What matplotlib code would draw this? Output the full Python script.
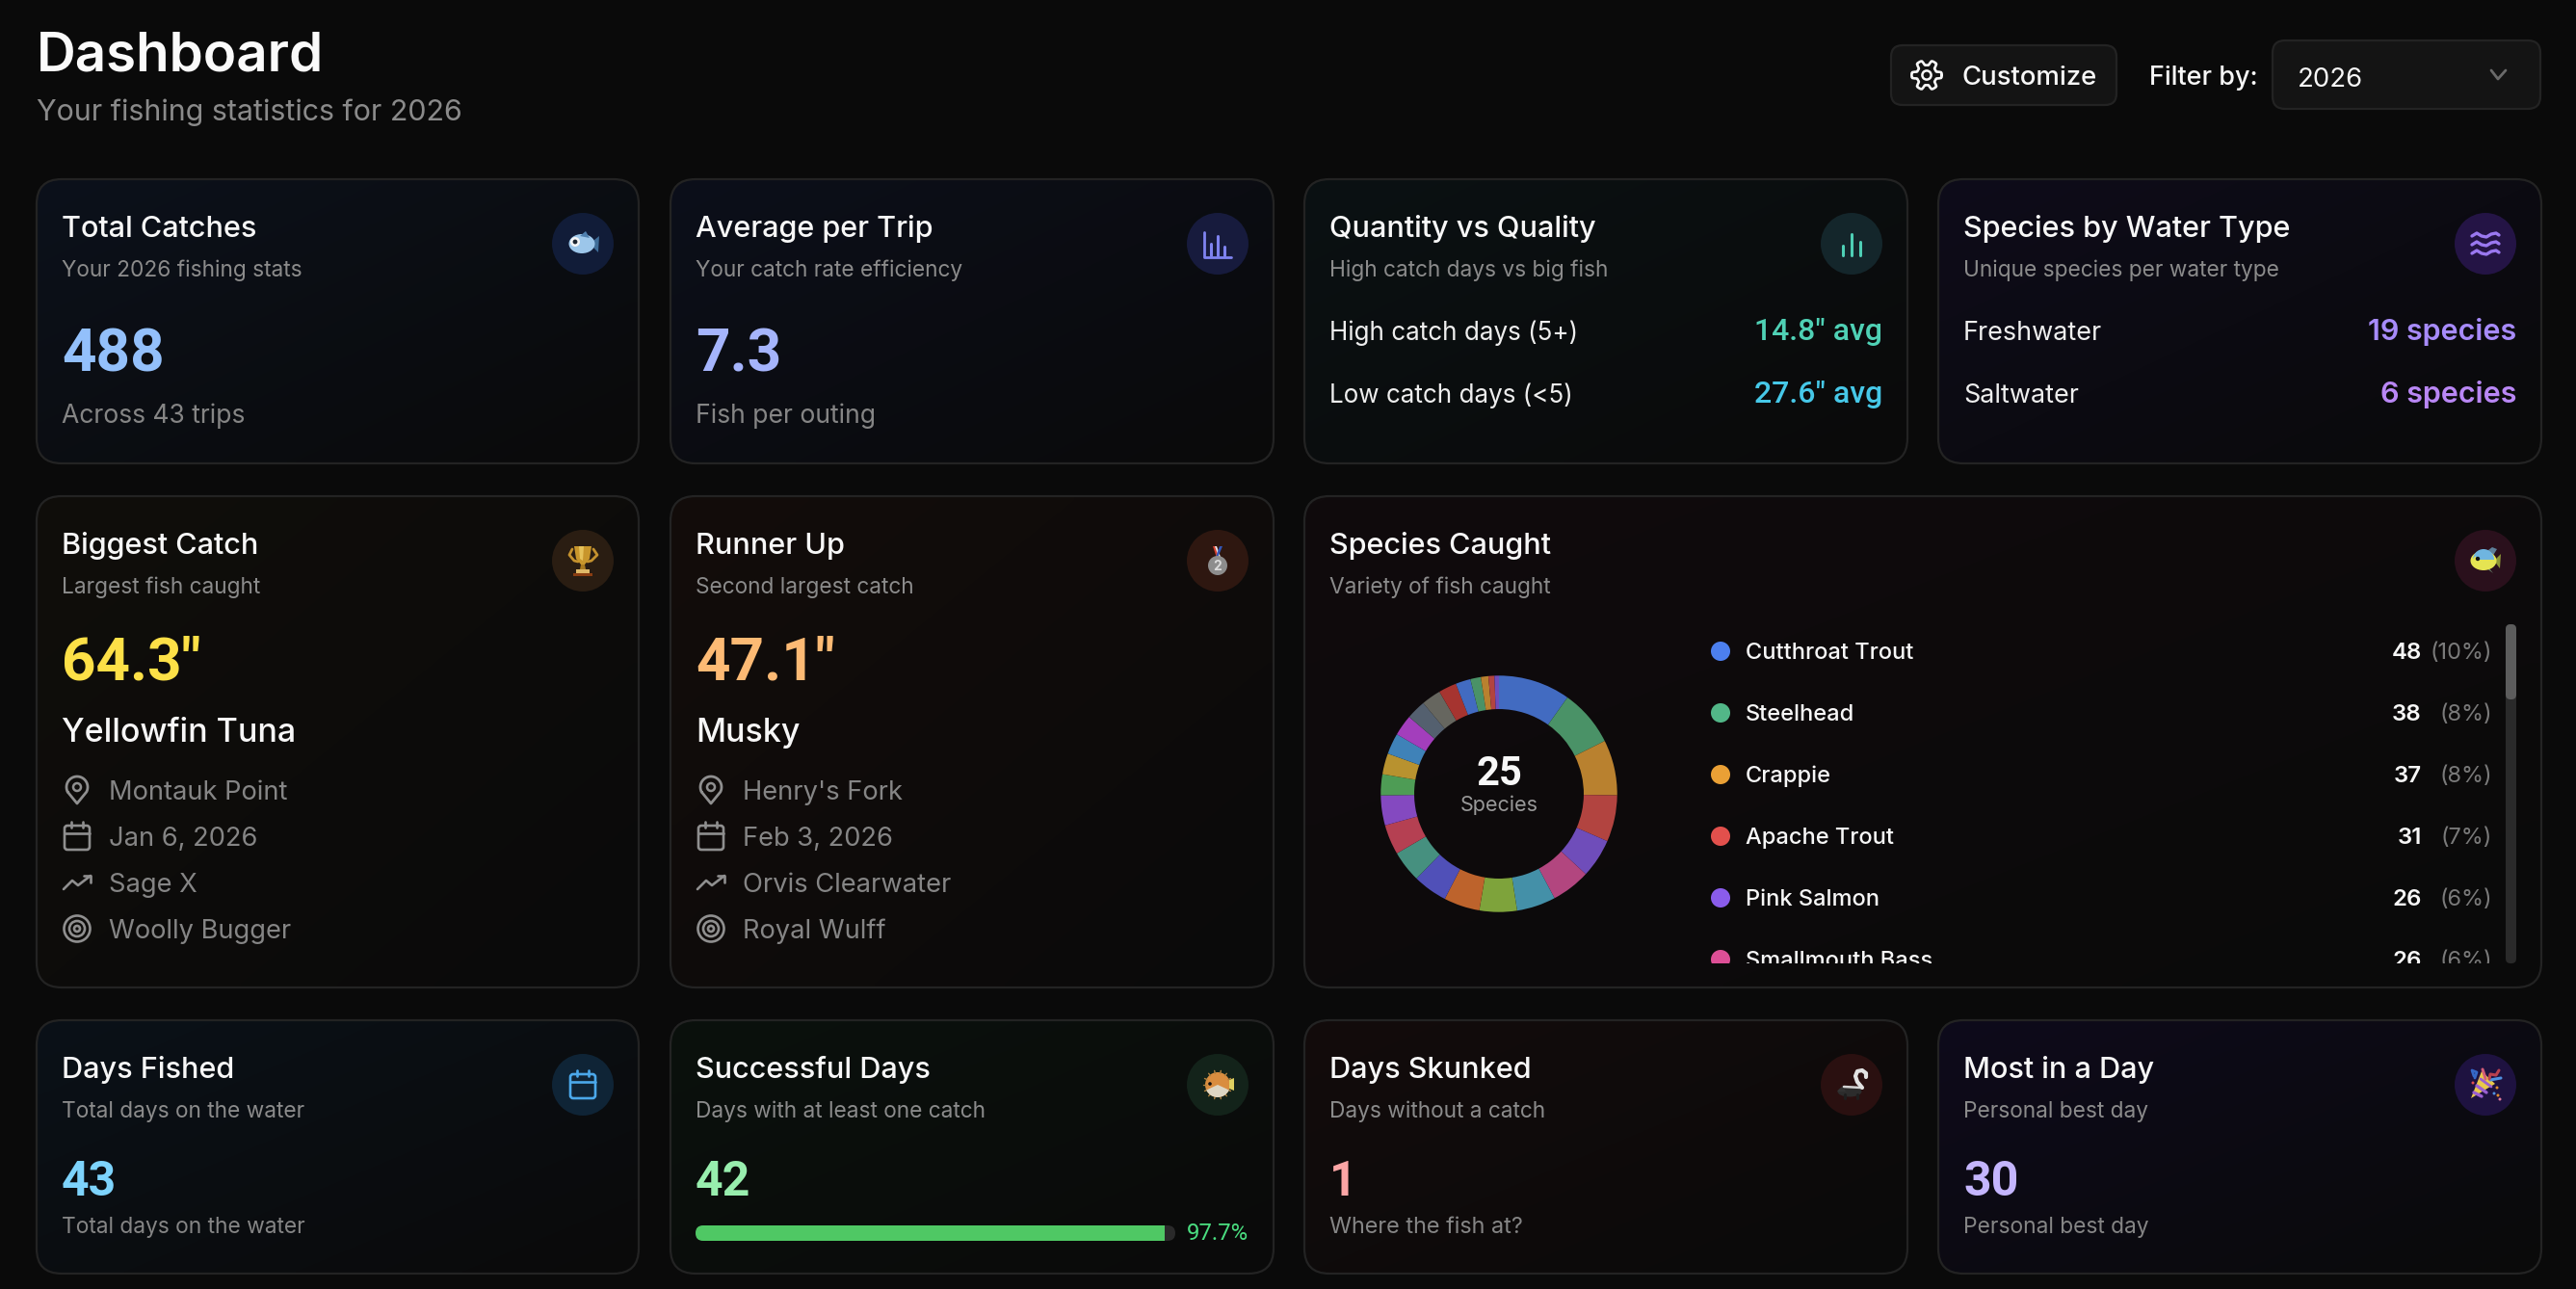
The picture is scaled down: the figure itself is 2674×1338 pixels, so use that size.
import matplotlib
matplotlib.use("Agg")
import matplotlib.pyplot as plt
import numpy as np
from matplotlib.patches import Circle, Ellipse, FancyBboxPatch, Polygon, Rectangle, Wedge
from matplotlib.colors import LinearSegmentedColormap

plt.rcParams['font.family'] = ['Inter', 'DejaVu Sans']

W, H = 2674, 1338
BG = '#0a0a0a'
WHITE = '#f7f7f7'
GRAY = '#8b8b8b'
NUM = ['Roboto', 'DejaVu Sans']

# donut data
species_counts = [48, 38, 37, 31, 26, 26, 26, 25, 24, 23, 21, 20, 20, 14, 14, 14, 14, 13, 13, 12, 10, 7, 5, 4, 3]
species_colors = ['#426bc1', '#4a9267', '#b9812f', '#b24440', '#6f4dba', '#b2467f', '#4490a8', '#7ea33b',
                  '#bd632c', '#5050b8', '#46907f', '#b54052', '#8449c0', '#4e9c55', '#b8922f', '#3f82b8',
                  '#a33ebc', '#54606f', '#66665f', '#a63430', '#426bc1', '#4a9267', '#b9812f', '#b24440',
                  '#6f4dba']

# legend rows
legend_names = ['Cutthroat Trout', 'Steelhead', 'Crappie', 'Apache Trout', 'Pink Salmon', 'Smallmouth Bass']
legend_counts = [48, 38, 37, 31, 26, 26]
legend_pcts = ['(10%)', '(8%)', '(8%)', '(7%)', '(6%)', '(6%)']
legend_colors = ['#4c7fee', '#52b788', '#eaa035', '#e2504c', '#8a5ceb', '#dd4f96']

# progress bar
success_pct = 97.7

# detail lists
biggest_details = ['Montauk Point', 'Jan 6, 2026', 'Sage X', 'Woolly Bugger']
runner_details = ["Henry's Fork", 'Feb 3, 2026', 'Orvis Clearwater', 'Royal Wulff']

fig = plt.figure(figsize=(W / 100, H / 100), dpi=100, facecolor=BG)
ax = fig.add_axes([0, 0, 1, 1])
ax.set_xlim(0, W)
ax.set_ylim(H, 0)
ax.axis('off')
ax.set_aspect('auto')


def txt(x, y, s, px, color=WHITE, weight='normal', ha='left', clip=None, family=None):
    t = ax.text(x, y, s, fontsize=px * 0.72, color=color, fontweight=weight, ha=ha, va='baseline', family=family)
    if clip is not None:
        t.set_clip_path(clip)
        t.set_clip_on(True)
    return t


def box(x0, y0, x1, y1, rad, face, edge='#232323', lw=1.6, z=1):
    p = FancyBboxPatch((x0 + rad, y0 + rad), x1 - x0 - 2 * rad, y1 - y0 - 2 * rad,
                       boxstyle=f'round,pad={rad},rounding_size={rad}', fc=face, ec=edge, lw=lw, zorder=z)
    ax.add_patch(p)
    return p


def card(x0, y0, x1, y1, tint):
    # soft diagonal tint like the css gradient
    p = box(x0, y0, x1, y1, 26, 'none', z=3)
    g = np.linspace(0, 1, 64)
    xx, yy = np.meshgrid(g, g)
    cm = LinearSegmentedColormap.from_list('c', [tint, '#0a0a0a'])
    im = ax.imshow((xx + yy) / 2, extent=(x0, x1, y1, y0), cmap=cm, vmin=0, vmax=1, zorder=2,
                   aspect='auto', interpolation='bilinear')
    im.set_clip_path(p)
    ax.set_xlim(0, W)
    ax.set_ylim(H, 0)


def line(xs, ys, color, lw=2.4, z=6):
    ax.plot(xs, ys, color=color, lw=lw, solid_capstyle='round', solid_joinstyle='round', zorder=z)


def poly(pts, color, z=6):
    ax.add_patch(Polygon(pts, closed=True, fc=color, ec='none', zorder=z))


def circ(x, y, r, fc, ec='none', lw=0, z=6):
    ax.add_patch(Circle((x, y), r, fc=fc, ec=ec, lw=lw, zorder=z))


def ico_pin(x, y, c):
    a = np.linspace(np.pi * 0.85, np.pi * 2.15, 30)
    xs = x + 11 * np.cos(a)
    ys = y - 3 + 11 * np.sin(a)
    line(list(xs) + [x, xs[0]], list(ys) + [y + 14, ys[0]], c, 2.0)
    circ(x, y - 3, 4, 'none', c, 1.8)


def ico_cal(x, y, c):
    box(x - 13, y - 11, x + 13, y + 14, 3, 'none', c, 1.9, z=6)
    line([x - 13, x + 13], [y - 3, y - 3], c, 1.9)
    line([x - 6, x - 6], [y - 15, y - 9], c, 1.9)
    line([x + 6, x + 6], [y - 15, y - 9], c, 1.9)


def ico_trend(x, y, c):
    line([x - 14, x - 5, x + 1, x + 14], [y + 7, y - 2, y + 3, y - 7], c, 1.9)
    line([x + 7, x + 14, x + 14], [y - 7, y - 7, y], c, 1.9)


def ico_target(x, y, c):
    circ(x, y, 13.5, 'none', c, 1.9)
    circ(x, y, 8, 'none', c, 1.9)
    circ(x, y, 3, 'none', c, 1.9)


def ico_gear(x, y, c):
    a = np.linspace(0, 2 * np.pi, 97)
    r = 13 + 2.6 * np.clip(np.cos(6 * a) * 2.2, -1, 1)
    line(x + r * np.cos(a), y + r * np.sin(a), c, 1.9)
    circ(x, y, 4.6, 'none', c, 1.8)


def ico_bars(x, y, c, hs, lw=2.2, gap=9):
    for dx, h in zip((-gap, 0, gap), hs):
        line([x + dx, x + dx], [y + 12, y + 12 - h], c, lw)


def ico_waves(x, y, c):
    for dy in (-9, 0, 9):
        xs = x + np.array([-14, -9, -4, 1, 6, 11, 14])
        ys = y + dy + np.array([1, -2, 1, 2, -1, -2, 0])
        line(xs, ys, c, 2.4)


def emoji_fish(x, y):
    poly([(x + 7, y), (x + 17, y - 8), (x + 16, y + 9)], '#3f6d98')
    ax.add_patch(Ellipse((x - 1, y), 27, 20, fc='#9cc6ea', ec='none', zorder=6))
    poly([(x - 3, y - 8), (x + 3, y - 13), (x + 7, y - 6)], '#4f7fae')
    circ(x - 8, y - 2, 5, '#f2f4f6', z=7)
    circ(x - 8, y - 2, 2.4, '#1b2430', z=8)


def emoji_trophy(x, y):
    y = y - 3
    line(np.array([-11, -14, -9, -5]) + x, np.array([-9, -3, 3, 4]) + y, '#c4912e', 2.0)
    line(np.array([11, 15, 9, 5]) + x, np.array([-9, -3, 3, 4]) + y, '#c4912e', 2.0)
    poly([(x - 9, y - 12), (x + 9, y - 12), (x + 7, y + 1), (x + 2, y + 7), (x - 2, y + 7), (x - 7, y + 1)], '#c8962c')
    poly([(x - 4, y - 12), (x + 1, y - 12), (x, y + 3), (x - 3, y + 1)], '#e6c25a')
    poly([(x - 2, y + 7), (x + 2, y + 7), (x + 3, y + 12), (x - 3, y + 12)], '#a97a20')
    poly([(x - 7, y + 12), (x + 7, y + 12), (x + 7, y + 17), (x - 7, y + 17)], '#e0b968')
    poly([(x - 10, y + 16), (x + 10, y + 16), (x + 10, y + 19), (x - 10, y + 19)], '#8a3d12')


def emoji_medal(x, y):
    poly([(x - 4, y - 15), (x - 1, y - 15), (x + 3, y - 4), (x, y - 3)], '#e4e4e8')
    poly([(x - 5, y - 15), (x - 3, y - 15), (x + 1, y - 4), (x - 1, y - 3)], '#d8412f')
    poly([(x + 5, y - 15), (x + 2, y - 15), (x - 2, y - 4), (x, y - 3)], '#3355b5')
    circ(x, y + 5, 10, '#8d8d8d')
    ax.text(x, y + 10, '2', fontsize=10, color='#dcdcdc', fontweight='bold', ha='center', zorder=7)


def emoji_tropical(x, y):
    poly([(x + 9, y), (x + 16, y - 7), (x + 15, y + 8)], '#8d9636')
    poly([(x - 1, y - 8), (x + 7, y - 14), (x + 12, y - 12), (x + 7, y - 4)], '#5d7f99')
    poly([(x, y + 7), (x + 8, y + 13), (x + 3, y + 7)], '#6d8a70')
    ax.add_patch(Ellipse((x - 2, y), 27, 20, fc='#e5e452', ec='none', zorder=6))
    ax.add_patch(Wedge((x - 2, y - 1), 11, 180, 360, fc='#6fb5e0', ec='none', zorder=7))
    poly([(x - 15, y), (x - 10, y - 5), (x - 10, y + 4)], '#e5e452', z=7)
    circ(x - 8, y - 2, 2.2, '#111', z=8)


def emoji_puffer(x, y):
    circ(x, y, 13, '#d98d3f')
    ax.add_patch(Wedge((x, y), 13, 25, 155, fc='#ddd6c4', ec='none', zorder=7))
    a = np.arange(0, 2 * np.pi, np.pi / 7)
    for ang in a:
        line([x + 12 * np.cos(ang), x + 15 * np.cos(ang)], [y + 12 * np.sin(ang), y + 15 * np.sin(ang)], '#b0813f', 1.0)
    poly([(x + 12, y - 5), (x + 17, y - 7), (x + 17, y + 6), (x + 12, y + 4)], '#dfd060', z=7)
    circ(x - 8, y - 1, 1.8, '#111', z=8)


def emoji_skunk(x, y):
    ax.add_patch(Ellipse((x - 2, y + 7), 25, 11, fc='#2c2c2c', ec='none', zorder=6))
    poly([(x - 15, y + 7), (x - 9, y + 1), (x - 6, y + 7)], '#333333')
    line([x - 8, x + 10], [y + 2, y + 3], '#d4d4d4', 1.8)
    line([x - 7, x - 7], [y + 10, y + 14], '#1e1e1e', 2.2)
    line([x + 6, x + 6], [y + 10, y + 14], '#1e1e1e', 2.2)
    line([x + 11, x + 6, x + 4, x + 6, x + 11, x + 15, x + 15],
         [y + 3, y - 3, y - 9, y - 14, y - 15, y - 12, y - 8], '#e2e2e2', 3.0)


def emoji_party(x, y):
    poly([(x - 15, y + 14), (x - 4, y - 14), (x + 10, y - 1)], '#e8c94a')
    line([x - 9, x + 1], [y + 1, y + 8], '#9a5fd0', 2.4, z=7)
    line([x - 12, x - 4], [y + 8, y + 12], '#9a5fd0', 2.4, z=7)
    line([x - 5, x + 6], [y - 6, y + 2], '#9a5fd0', 2.0, z=7)
    line([x + 5, x + 16], [y - 5, y - 7], '#4f90e0', 2.2)
    line([x - 12, x - 14, x - 9, x - 11], [y - 9, y - 15, y - 13, y - 7], '#3568c8', 2.0)
    line([x - 3, x - 1, x], [y - 16, y - 10, y - 6], '#d25c78', 2.2)
    line([x + 4, x + 5, x + 11, x + 14], [y - 6, y - 11, y - 10, y - 15], '#b8414f', 2.2)
    for dx, dy, c in [(12, 3, '#e08d2e'), (9, 9, '#4f90e0'), (13, 11, '#e08d2e'), (15, 15, '#e07a9a'), (-13, -2, '#e05050')]:
        circ(x + dx, y + dy, 1.5, c)


# header
txt(38, 74, 'Dashboard', 56.5, '#fafafa', 'semibold')
txt(38, 125, 'Your fishing statistics for 2026', 30.4, '#8a8a8a')
box(1963, 47, 2197, 109, 12, '#141414')
ico_gear(2000, 78, WHITE)
txt(2037, 88, 'Customize', 27.5, WHITE, 'medium')
txt(2231, 88, 'Filter by:', 27, WHITE, 'medium')
box(2359, 42, 2637, 113, 13, '#141414')
txt(2385, 90, '2026', 27.5, WHITE)
line([2586, 2593, 2601], [73, 82, 73], '#6a6a6a', 2.0)

COLS = [(38, 663), (696, 1322), (1354, 1980), (2012, 2638)]
ROW1 = (186, 481)
ROW2 = (515, 1025)
ROW3 = (1059, 1322)
PAD = 26


def head(c0, y0, c1, title, sub, icon_bg):
    txt(c0 + PAD, y0 + 60, title, 30.6, WHITE, 'medium')
    txt(c0 + PAD, y0 + 101, sub, 22.7, GRAY)
    circ(c1 - 58, y0 + 67, 32, icon_bg, z=5)
    return c1 - 58, y0 + 67


# row 1
x0, x1 = COLS[0]
card(x0, ROW1[0], x1, ROW1[1], '#0c111b')
cx, cy = head(x0, ROW1[0], x1, 'Total Catches', 'Your 2026 fishing stats', '#111c38')
emoji_fish(cx, cy)
txt(x0 + PAD, 385, '488', 62, '#93c0fb', 'semibold', family=NUM)
txt(x0 + PAD, 439, 'Across 43 trips', 26.5, '#858585')

x0, x1 = COLS[1]
card(x0, ROW1[0], x1, ROW1[1], '#0c0f1a')
cx, cy = head(x0, ROW1[0], x1, 'Average per Trip', 'Your catch rate efficiency', '#171b3d')
ico_bars(cx, cy, '#7f83f0', (12, 20, 9), gap=7)
line([cx - 14, cx - 14, cx + 14], [cy - 12, cy + 14, cy + 14], '#7f83f0', 2.0)
txt(x0 + PAD, 385, '7.3', 62, '#a5b4fc', 'semibold', family=NUM)
txt(x0 + PAD, 439, 'Fish per outing', 26.5, '#858585')

x0, x1 = COLS[2]
card(x0, ROW1[0], x1, ROW1[1], '#0b1113')
cx, cy = head(x0, ROW1[0], x1, 'Quantity vs Quality', 'High catch days vs big fish', '#14262b')
ico_bars(cx, cy, '#4ecfb5', (10, 22, 14))
txt(x0 + PAD, 353, 'High catch days (5+)', 26, '#eeeeee')
txt(x0 + PAD, 418, 'Low catch days (<5)', 26, '#eeeeee')
txt(x1 - PAD, 353, '14.8" avg', 32, '#4fd1b5', 'medium', 'right', family=NUM)
txt(x1 - PAD, 418, '27.6" avg', 32, '#46c8e8', 'medium', 'right', family=NUM)

x0, x1 = COLS[3]
card(x0, ROW1[0], x1, ROW1[1], '#0e0c1a')
cx, cy = head(x0, ROW1[0], x1, 'Species by Water Type', 'Unique species per water type', '#241445')
ico_waves(cx, cy, '#9a78f0')
txt(x0 + PAD, 353, 'Freshwater', 27, '#eeeeee')
txt(x0 + PAD, 418, 'Saltwater', 27, '#eeeeee')
txt(x1 - PAD, 353, '19 species', 30.5, '#a78bfa', 'semibold', 'right')
txt(x1 - PAD, 418, '6 species', 30.5, '#b987f5', 'semibold', 'right')

# row 2
detail_icons = [ico_pin, ico_cal, ico_trend, ico_target]
detail_base = [830, 878, 926, 974]
big_cards = [(COLS[0], '#100e0a', 'Biggest Catch', 'Largest fish caught', '#2a1d12', emoji_trophy, '64.3"', '#fde047', 'Yellowfin Tuna', biggest_details),
             (COLS[1], '#130d0b', 'Runner Up', 'Second largest catch', '#2e1710', emoji_medal, '47.1"', '#fdba74', 'Musky', runner_details)]
for (x0, x1), tint, title, sub, bg, emo, val, vc, fish, details in big_cards:
    card(x0, ROW2[0], x1, ROW2[1], tint)
    cx, cy = head(x0, ROW2[0], x1, title, sub, bg)
    emo(cx, cy)
    txt(x0 + PAD, 706, val, 62, vc, 'semibold', family=NUM)
    txt(x0 + PAD, 770, fish, 34, WHITE, 'medium')
    for base, icon, d in zip(detail_base, detail_icons, details):
        icon(x0 + 42, base - 10, '#8f8f8f')
        txt(x0 + 75, base, d, 27.3, '#858585')

x0 = COLS[2][0]
x1 = COLS[3][1]
card(x0, ROW2[0], x1, ROW2[1], '#100b0d')
cx, cy = head(x0, ROW2[0], x1, 'Species Caught', 'Variety of fish caught', '#2a101c')
emoji_tropical(cx, cy)

# donut goes through pie on its own axes
R = 122.7
dax = fig.add_axes([(1556 - R) / W, 1 - (824 + R) / H, 2 * R / W, 2 * R / H], zorder=5)
dax.pie(species_counts, colors=species_colors, startangle=90, counterclock=False, radius=1,
        wedgeprops={'width': 0.283, 'linewidth': 0})
dax.set_xlim(-1, 1)
dax.set_ylim(-1, 1)
dax.patch.set_alpha(0)
dax.text(0, 0.07, '25', fontsize=30, color=WHITE, fontweight='semibold', ha='center', va='baseline', family=NUM)
dax.text(0, -0.15, 'Species', fontsize=15.5, color='#999999', ha='center', va='baseline')

# legend, last row cut by the scroll area
clip = Rectangle((1750, 640), 860, 360, transform=ax.transData)
for i, (name, n, pct, c) in enumerate(zip(legend_names, legend_counts, legend_pcts, legend_colors)):
    y = 676 + 64 * i
    dot = Circle((1786, y), 10, fc=c, ec='none', zorder=6)
    ax.add_patch(dot)
    dot.set_clip_path(clip)
    txt(1812, y + 8, name, 23.6, WHITE, 'medium', clip=clip)
    txt(2514, y + 8, str(n), 24, WHITE, 'semibold', 'right', clip=clip)
    txt(2587, y + 8, pct, 23.5, '#7a7a7a', 'normal', 'right', clip=clip)
box(2601, 648, 2612, 1000, 5, '#2a2a2a', 'none', 0, z=6)
box(2601, 648, 2612, 726, 5, '#5c5c5c', 'none', 0, z=7)

# row 3
x0, x1 = COLS[0]
card(x0, ROW3[0], x1, ROW3[1], '#0a1118')
cx, cy = head(x0, ROW3[0], x1, 'Days Fished', 'Total days on the water', '#0f2436')
ico_cal(cx, cy, '#4ba8ea')
txt(x0 + PAD, 1241, '43', 50, '#7dd3fc', 'semibold', family=NUM)
txt(x0 + PAD, 1280, 'Total days on the water', 22.8, '#858585')

x0, x1 = COLS[1]
card(x0, ROW3[0], x1, ROW3[1], '#0a110d')
cx, cy = head(x0, ROW3[0], x1, 'Successful Days', 'Days with at least one catch', '#13231a')
emoji_puffer(cx, cy)
txt(x0 + PAD, 1241, '42', 50, '#98eeae', 'semibold', family=NUM)
bar_left, bar_right = 722, 1220
track = box(bar_left, 1272, bar_right, 1288, 8, '#2a2a2a', 'none', 0, z=5)
bars = ax.barh(1280, (bar_right - bar_left) * success_pct / 100, height=16, left=bar_left, color='#4fc864', zorder=6)
bars[0].set_clip_path(track)
txt(x1 - PAD, 1287, f'{success_pct}%', 24, '#4ade80', ha='right', family=NUM)

x0, x1 = COLS[2]
card(x0, ROW3[0], x1, ROW3[1], '#130c0c')
cx, cy = head(x0, ROW3[0], x1, 'Days Skunked', 'Days without a catch', '#2a1010')
emoji_skunk(cx, cy)
txt(x0 + PAD, 1241, '1', 50, '#fca5a5', 'semibold', family=NUM)
txt(x0 + PAD, 1280, 'Where the fish at?', 23.4, '#858585')

x0, x1 = COLS[3]
card(x0, ROW3[0], x1, ROW3[1], '#0e0b1b')
cx, cy = head(x0, ROW3[0], x1, 'Most in a Day', 'Personal best day', '#1e1240')
emoji_party(cx, cy)
txt(x0 + PAD, 1241, '30', 50, '#c4b5fd', 'semibold', family=NUM)
txt(x0 + PAD, 1280, 'Personal best day', 22.8, '#858585')

ax.set_xlim(0, W)
ax.set_ylim(H, 0)
fig.savefig('out.png', dpi=100, facecolor=BG)
